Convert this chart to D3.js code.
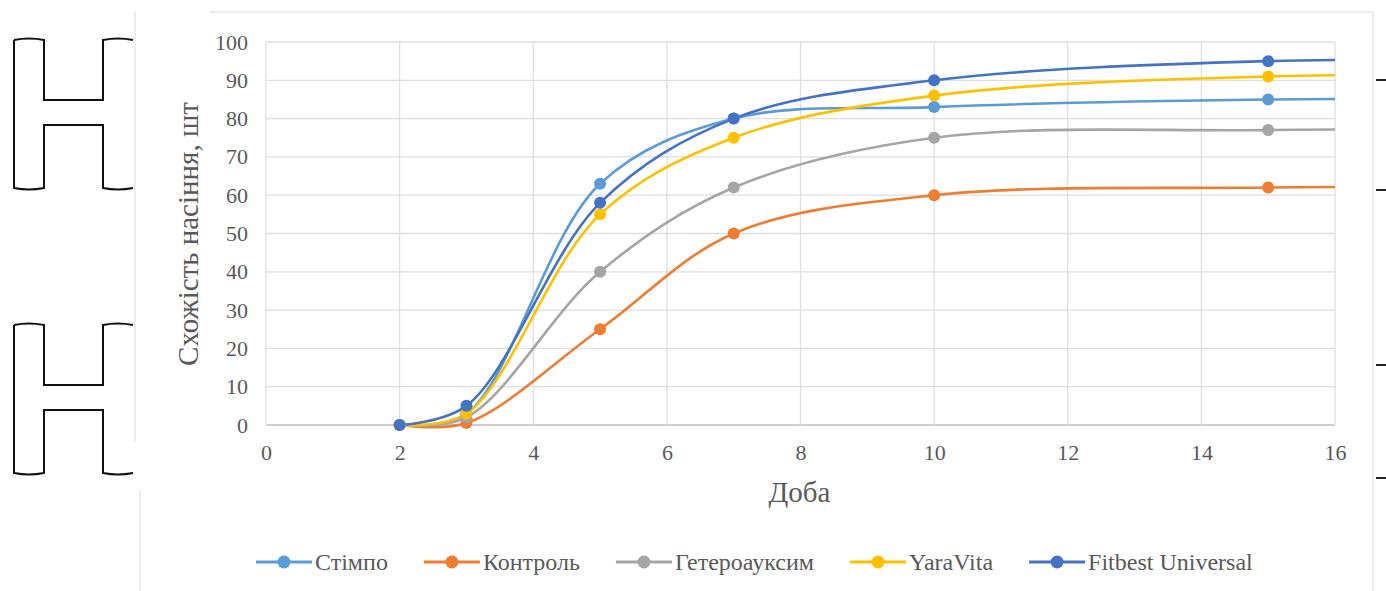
<!DOCTYPE html>
<html>
<head>
<meta charset="utf-8">
<script src="https://cdn.jsdelivr.net/npm/d3@7"></script>
<style>
  body { margin: 0; background: #fff; }
  svg text { font-family: "Liberation Serif", "Times New Roman", serif; }
</style>
</head>
<body>
<svg id="chart" width="1386" height="591"></svg>
<script>
// days of observation (last one lies past the axis and is clipped, as in the source)
var days = [2, 3, 5, 7, 10, 15, 21];
var seriesNames = ["Стімпо", "Контроль", "Гетероауксим", "YaraVita", "Fitbest Universal"];
var stimpo   = [0, 3, 63, 80, 83, 85, 85];
var kontrol  = [0, 0.5, 25, 50, 60, 62, 62];
var hetero   = [0, 2, 40, 62, 75, 77, 77];
var yaravita = [0, 3, 55, 75, 86, 91, 91];
var fitbest  = [0, 5, 58, 80, 90, 95, 95];
var colors = ["#5b9bd5", "#ed7d31", "#a5a5a5", "#ffc000", "#4472c4"];
var xTicks = [0, 2, 4, 6, 8, 10, 12, 14, 16];
var yTicks = [0, 10, 20, 30, 40, 50, 60, 70, 80, 90, 100];

var allValues = [stimpo, kontrol, hetero, yaravita, fitbest];
var series = seriesNames.map(function(name, i) {
  return {
    name: name,
    color: colors[i],
    points: days.map(function(d, j) { return { x: d, y: allValues[i][j] }; })
  };
});

var margins = { left: 266, right: 51, top: 42, bottom: 166 };
var width = 1386 - margins.left - margins.right;
var height = 591 - margins.top - margins.bottom;

var svg = d3.select("#chart");

// page decorations: chart frame and the H blocks on the left
svg.append("path")
  .attr("d", "M135,12 L135,442 M210,12 L1373,12 L1373,591 M140,490 L140,591")
  .attr("fill", "none")
  .attr("stroke", "#e6e6e6")
  .attr("stroke-width", 1.5);

[40, 325].forEach(function(top) {
  var h = 148;
  var p = "M14," + top + " L14," + (top + h) +
    " Q29," + (top + h + 3) + " 44," + (top + h) +
    " L44," + (top + 85) + " L103," + (top + 85) + " L103," + (top + h) +
    " Q118," + (top + h + 3) + " 133," + (top + h) +
    " M133," + top + " Q118," + (top - 3) + " 103," + top +
    " L103," + (top + 60) + " L44," + (top + 60) + " L44," + top +
    " Q29," + (top - 3) + " 14," + top;
  svg.append("path")
    .attr("d", p)
    .attr("fill", "none")
    .attr("stroke", "#111")
    .attr("stroke-width", 2);
});

[80, 190, 365, 478].forEach(function(y) {
  svg.append("line")
    .attr("x1", 1376).attr("x2", 1386)
    .attr("y1", y).attr("y2", y)
    .attr("stroke", "#222").attr("stroke-width", 2);
});

var plotArea = svg.append("g")
  .attr("transform", "translate(" + margins.left + "," + margins.top + ")");

var xScale = d3.scaleLinear().domain([0, 16]).range([0, width]);
var yScale = d3.scaleLinear().domain([0, 100]).range([height, 0]);

// gridlines
plotArea.append("g")
  .selectAll("line.h")
  .data(yTicks)
  .enter()
  .append("line")
  .attr("x1", 0).attr("x2", width)
  .attr("y1", function(d) { return yScale(d); })
  .attr("y2", function(d) { return yScale(d); })
  .attr("stroke", function(d) { return d === 0 ? "#bfbfbf" : "#dedede"; })
  .attr("stroke-width", 1.3);

plotArea.append("g")
  .selectAll("line.v")
  .data(xTicks)
  .enter()
  .append("line")
  .attr("x1", function(d) { return xScale(d); })
  .attr("x2", function(d) { return xScale(d); })
  .attr("y1", 0).attr("y2", height)
  .attr("stroke", "#dedede")
  .attr("stroke-width", 1.3);

// axes (labels only, lines drawn by the grid)
var xAxis = d3.axisBottom(xScale).tickValues(xTicks).tickSize(0).tickPadding(19);
var gx = plotArea.append("g")
  .attr("transform", "translate(0," + height + ")")
  .call(xAxis)
  .attr("font-family", null)
  .attr("font-size", null);
gx.select(".domain").remove();
gx.selectAll("text").style("font-size", "22px").attr("fill", "#595959");

var yAxis = d3.axisLeft(yScale).tickValues(yTicks).tickSize(0).tickPadding(18);
var gy = plotArea.append("g").call(yAxis)
  .attr("font-family", null)
  .attr("font-size", null);
gy.select(".domain").remove();
gy.selectAll("text").style("font-size", "22px").attr("fill", "#595959");

// axis titles
svg.append("text")
  .attr("x", margins.left + width / 2 - 1)
  .attr("y", 502)
  .attr("text-anchor", "middle")
  .attr("fill", "#595959")
  .style("font-size", "29px")
  .text("Доба");

svg.append("text")
  .attr("transform", "translate(198,234) rotate(-90)")
  .attr("text-anchor", "middle")
  .attr("fill", "#595959")
  .style("font-size", "29px")
  .text("Схожість насіння, шт");

// lines and markers
plotArea.append("clipPath")
  .attr("id", "clip")
  .append("rect")
  .attr("x", 0).attr("y", -10)
  .attr("width", width).attr("height", height + 20);

var line = d3.line()
  .x(function(d) { return xScale(d.x); })
  .y(function(d) { return yScale(d.y); })
  .curve(d3.curveCatmullRom.alpha(0.5));

var lines = plotArea.append("g").attr("clip-path", "url(#clip)");

lines.selectAll("path")
  .data(series)
  .enter()
  .append("path")
  .attr("d", function(d) { return line(d.points); })
  .attr("fill", "none")
  .attr("stroke", function(d) { return d.color; })
  .attr("stroke-width", 2.6);

series.forEach(function(s) {
  lines.append("g")
    .selectAll("circle")
    .data(s.points)
    .enter()
    .append("circle")
    .attr("cx", function(d) { return xScale(d.x); })
    .attr("cy", function(d) { return yScale(d.y); })
    .attr("r", 6)
    .attr("fill", s.color);
});

// legend
var legend = svg.append("g").attr("transform", "translate(0,562)");
var lx = 256;
series.forEach(function(s) {
  var item = legend.append("g").attr("transform", "translate(" + lx + ",0)");
  item.append("line")
    .attr("x1", 0).attr("x2", 56)
    .attr("y1", 0).attr("y2", 0)
    .attr("stroke", s.color).attr("stroke-width", 2.8);
  item.append("circle").attr("cx", 28).attr("cy", 0).attr("r", 6.5).attr("fill", s.color);
  var t = item.append("text")
    .attr("x", 59).attr("y", 8)
    .attr("fill", "#595959")
    .style("font-size", "24px")
    .text(s.name);
  lx += 59 + t.node().getComputedTextLength() + 36;
});
</script>
</body>
</html>
